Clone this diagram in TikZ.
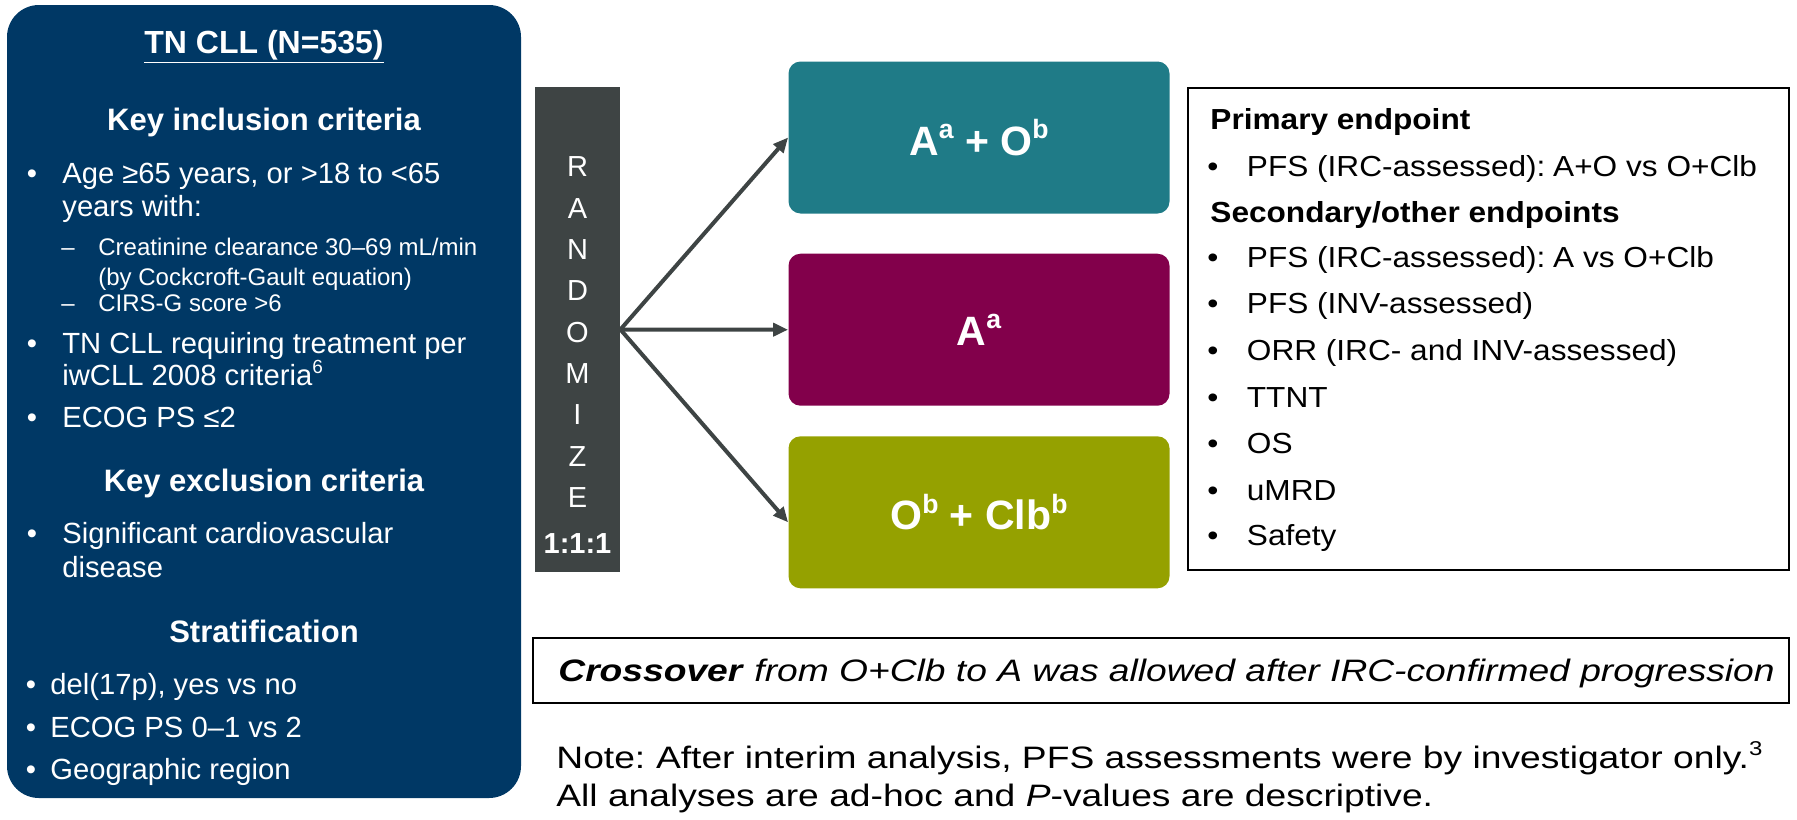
\documentclass[tikz,border=0pt]{standalone}
\usepackage{fontspec}
\setmainfont{Liberation Sans}
\newfontfamily\fEnd[FakeStretch=1.09]{Liberation Sans}
\newfontfamily\fCross[FakeStretch=1.2]{Liberation Sans}
\usetikzlibrary{arrows.meta}
\definecolor{navy}{RGB}{0,56,101}
\definecolor{barg}{RGB}{62,68,68}
\definecolor{armteal}{RGB}{31,123,135}
\definecolor{armplum}{RGB}{130,0,75}
\definecolor{armolive}{RGB}{149,161,0}
\newcommand\supr[2]{\raisebox{0.4em}{\fontsize{#1}{#1}\selectfont #2}}
\begin{document}
\begin{tikzpicture}[x=0.5pt,y=-0.5pt,
  lt/.style={anchor=base west,inner sep=0pt,text=white,font=\fontsize{14.6}{16}\selectfont},
  ls/.style={anchor=base west,inner sep=0pt,text=white,font=\fontsize{12}{14}\selectfont},
  lh/.style={anchor=base,inner sep=0pt,text=white,font=\bfseries\fontsize{15.5}{18}\selectfont},
  bul/.style={anchor=base,inner sep=0pt,text=white,font=\fontsize{14.6}{16}\selectfont},
  et/.style={anchor=base west,inner sep=0pt,text=black,font=\fEnd\fontsize{14.5}{17}\selectfont},
  eh/.style={anchor=base west,inner sep=0pt,text=black,font=\fEnd\bfseries\fontsize{14.5}{17}\selectfont},
  eb/.style={anchor=base,inner sep=0pt,text=black,font=\fEnd\fontsize{14.5}{17}\selectfont},
  nt/.style={anchor=base west,inner sep=0pt,text=black,font=\fCross\fontsize{15.5}{18}\selectfont},
  arm/.style={minimum width=190.5pt,minimum height=76pt,rounded corners=6pt,inner sep=0pt,
    text=white,font=\bfseries\fontsize{20.5}{24}\selectfont},
  rl/.style={inner sep=0pt,text=white,font=\fontsize{14.5}{16}\selectfont},
  arr/.style={draw=barg,line width=2pt,-{Triangle[length=7.5pt,width=6.5pt]}}
]
\useasboundingbox (0,0) rectangle (1797,819);

% left panel
\node[fill=navy,rounded corners=16pt,minimum width=257pt,minimum height=396.5pt,inner sep=0pt] (panel) at (264,401.5) {};
\node[lh,font=\bfseries\fontsize{16}{18}\selectfont] (title) at (264,53) {\underline{TN CLL (N=535)}};
\node[lh] (hincl) at (264,130) {Key inclusion criteria};
\node[bul] (b1) at (32,183) {•};
\node[lt] (t1a) at (62,183) {Age ≥65 years, or >18 to <65};
\node[lt] (t1b) at (62,216) {years with:};
\node[bul,font=\fontsize{12}{14}\selectfont] (d1) at (68,255) {–};
\node[ls] (s1a) at (98,255) {Creatinine clearance 30–69 mL/min};
\node[ls] (s1b) at (98,285) {(by Cockcroft-Gault equation)};
\node[bul,font=\fontsize{12}{14}\selectfont] (d2) at (68,311) {–};
\node[ls] (s2) at (98,311) {CIRS-G score >6};
\node[bul] (b2) at (32,353) {•};
\node[lt] (t2a) at (62,353) {TN CLL requiring treatment per};
\node[lt] (t2b) at (62,385) {iwCLL 2008 criteria\supr{9.5}{6}};
\node[bul] (b3) at (32,427) {•};
\node[lt] (t3) at (62,427) {ECOG PS ≤2};
\node[lh] (hexcl) at (264,491) {Key exclusion criteria};
\node[bul] (b4) at (32,543) {•};
\node[lt] (t4a) at (62,543) {Significant cardiovascular};
\node[lt] (t4b) at (62,577) {disease};
\node[lh] (hstrat) at (264,642) {Stratification};
\node[bul] (b5) at (31,694) {•};
\node[lt] (t5) at (50,694) {del(17p), yes vs no};
\node[bul] (b6) at (31,737) {•};
\node[lt] (t6) at (50,737) {ECOG PS 0–1 vs 2};
\node[bul] (b7) at (31,779) {•};
\node[lt] (t7) at (50,779) {Geographic region};

% randomize bar
\node[fill=barg,minimum width=42.5pt,minimum height=242.5pt,inner sep=0pt] (rnd) at (577.5,329.5) {};
\foreach \l [count=\i] in {R,A,N,D,O,M,I,Z,E}
  \node[rl] (r\i) at (577.5,{167+(\i-1)*41.3}) {\l};
\node[rl,font=\bfseries\fontsize{14.5}{16}\selectfont] (ratio) at (577.5,544) {1:1:1};

% arms
\node[arm,fill=armteal] (ao) at (979,137.5) {A\supr{13.3}{a} + O\supr{13.3}{b}};
\node[arm,fill=armplum] (aa) at (979,329.7) {A\supr{13.3}{a}};
\node[arm,fill=armolive] (oc) at (979,512.3) {O\supr{13.3}{b} + Clb\supr{13.3}{b}};
\coordinate (octip) at ([yshift=-5pt]oc.west);
\draw[arr] (rnd.east) -- (ao.west);
\draw[arr] (rnd.east) -- (aa.west);
\draw[arr] (rnd.east) -- (octip);

% endpoints
\node[draw=black,line width=1.25pt,minimum width=300.5pt,minimum height=241pt,inner sep=0pt] (ep) at (1488.5,329) {};
\node[eh] (e0) at (1210,129) {Primary endpoint};
\node[eb] (eb1) at (1213,176) {•};
\node[et] (e1) at (1246.5,176) {PFS (IRC-assessed):\kern-2pt{} A+O vs O+Clb};
\node[eh] (e2) at (1210,222) {Secondary/other endpoints};
\node[eb] (eb3) at (1213,267) {•};
\node[et] (e3) at (1246.5,267) {PFS (IRC-assessed):\kern-2pt{} A vs O+Clb};
\node[eb] (eb4) at (1213,313) {•};
\node[et] (e4) at (1246.5,313) {PFS (INV-assessed)};
\node[eb] (eb5) at (1213,360) {•};
\node[et] (e5) at (1246.5,360) {ORR (IRC- and INV-assessed)};
\node[eb] (eb6) at (1213,407) {•};
\node[et] (e6) at (1246.5,407) {TTNT};
\node[eb] (eb7) at (1213,453) {•};
\node[et] (e7) at (1246.5,453) {OS};
\node[eb] (eb8) at (1213,500) {•};
\node[et] (e8) at (1246.5,500) {uMRD};
\node[eb] (eb9) at (1213,545) {•};
\node[et] (e9) at (1246.5,545) {Safety};

% crossover
\node[draw=black,line width=1.1pt,minimum width=628pt,minimum height=32.5pt,inner sep=0pt] (cross) at (1161,670.5) {};
\node[nt] (crosst) at (558,681) {\textbf{\textit{Crossover}}\textit{ from O+Clb to A was allowed after IRC-confirmed progression}};

% notes
\node[nt] (note1) at (556,768) {Note:\kern-1.5pt{} After interim analysis, PFS assessments were by investigator only.\supr{10}{3}};
\node[nt] (note2) at (556,806) {All analyses are ad-hoc and \textit{P}-values are descriptive.};
\end{tikzpicture}
\end{document}
